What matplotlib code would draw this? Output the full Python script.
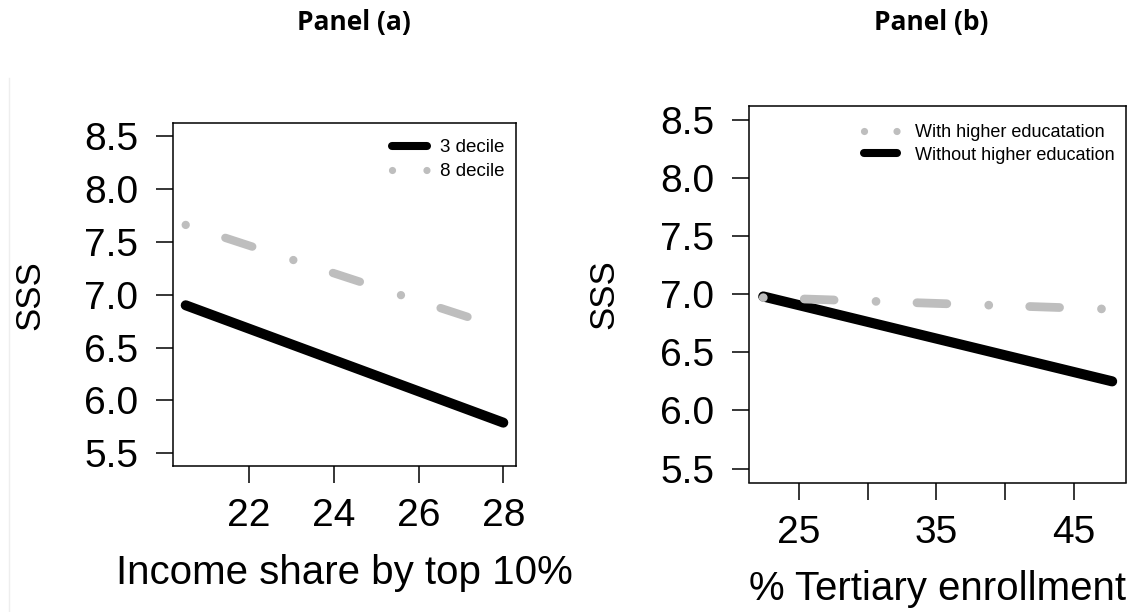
import matplotlib
matplotlib.use("Agg")
import matplotlib.pyplot as plt
from matplotlib.lines import Line2D

plt.rcParams['font.family'] = ['Liberation Sans', 'DejaVu Sans']
plt.rcParams['lines.scale_dashes'] = False

# ---------------- data ----------------
income_share = [20.5, 28.0]
sss_3_decile = [6.90, 5.79]
sss_8_decile = [7.66, 6.68]

tertiary_enroll = [22.4, 47.8]
sss_with_he = [6.97, 6.87]
sss_without_he = [6.98, 6.25]

yticks = [5.5, 6.0, 6.5, 7.0, 7.5, 8.0, 8.5]
ytick_labels = ['5.5', '6.0', '6.5', '7.0', '7.5', '8.0', '8.5']
xticks_a = [22, 24, 26, 28]
xticks_b = [25, 30, 35, 40, 45]
xtick_labels_b = ['25', '', '35', '', '45']

GRAY = '#bebebe'
BLACK = '#000000'

W, H = 1141, 612
fig = plt.figure(figsize=(W / 100, H / 100), dpi=100)


def px_axes(left, top, right, bottom):
    return fig.add_axes([left / W, 1 - bottom / H, (right - left) / W, (bottom - top) / H])


def style_axes(ax, xpad, ypad):
    for s in ax.spines.values():
        s.set_linewidth(1.1)
    ax.tick_params(axis='both', direction='out', length=12, width=1.1,
                   labelsize=28, colors='black')
    ax.tick_params(axis='x', pad=xpad)
    ax.tick_params(axis='y', pad=ypad)
    ax.set_ylim(5.38, 8.62)
    ax.set_yticks(yticks)
    ax.set_yticklabels(ytick_labels)


# ---------------- panel (a) ----------------
ax1 = px_axes(173, 123.4, 516, 466)
ax1.plot(income_share, sss_3_decile, color=BLACK, lw=7.2, solid_capstyle='round')
ax1.plot(income_share, sss_8_decile, color=GRAY, lw=6.0, dashes=(0.01, 30, 20.4, 31.1),
         dash_capstyle='round')
ax1.set_xlim(20.2, 28.3)
ax1.set_xticks(xticks_a)
ax1.set_xticklabels([str(v) for v in xticks_a])
style_axes(ax1, 11, 13)
ax1.set_xlabel('Income share by top 10%', fontsize=29)
ax1.xaxis.set_label_coords(0.5, (466 - 583.5) / (466 - 123.4))
ax1.xaxis.label.set_va('baseline')
ax1.set_ylabel('SSS', fontsize=25)
ax1.yaxis.set_label_coords((29.5 - 173) / (516 - 173), 0.5)
ax1.yaxis.label.set_va('center')

h_a = [Line2D([], [], color=BLACK, lw=5.8, solid_capstyle='round'),
       Line2D([], [], color=GRAY, lw=5.2, dashes=(0.01, 24.8), dash_capstyle='round')]
ax1.legend(h_a, ['3 decile', '8 decile'], loc='upper left',
           bbox_to_anchor=((392 - 173) / 343, 0.954), frameon=False, fontsize=13.5,
           handlelength=35 / 18.75, handletextpad=0.68, labelspacing=0.36,
           borderpad=0, borderaxespad=0)

# ---------------- panel (b) ----------------
ax2 = px_axes(749, 105.8, 1125.6, 482.5)
ax2.plot(tertiary_enroll, sss_without_he, color=BLACK, lw=7.3, solid_capstyle='round')
ax2.plot(tertiary_enroll, sss_with_he, color=GRAY, lw=6.3, dashes=(0.01, 29.5, 21.5, 30.2),
         dash_capstyle='round')
ax2.set_xlim(21.36, 48.78)
ax2.set_xticks(xticks_b)
ax2.set_xticklabels(xtick_labels_b)
style_axes(ax2, 11.5, 13)
ax2.set_xlabel('% Tertiary enrollment', fontsize=29)
ax2.xaxis.set_label_coords(0.5, (482.5 - 599.5) / (482.5 - 105.8))
ax2.xaxis.label.set_va('baseline')
ax2.set_ylabel('SSS', fontsize=25)
ax2.yaxis.set_label_coords((604 - 749) / (1125.6 - 749), 0.5)
ax2.yaxis.label.set_va('center')

h_b = [Line2D([], [], color=GRAY, lw=5.2, dashes=(0.01, 23.4), dash_capstyle='round'),
       Line2D([], [], color=BLACK, lw=5.8, solid_capstyle='round')]
ax2.legend(h_b, ['With higher educatation', 'Without higher education'], loc='upper left',
           bbox_to_anchor=((864 - 749) / 376.6, 0.952), frameon=False, fontsize=13,
           handlelength=33 / 18.06, handletextpad=1.0, labelspacing=0.32,
           borderpad=0, borderaxespad=0)

# ---------------- titles ----------------
fig.text(353.5 / W, 1 - 30 / H, 'Panel (a)', ha='center', va='baseline',
         fontsize=19, fontweight='bold', family=['Open Sans', 'DejaVu Sans'])
fig.text(931.5 / W, 1 - 30 / H, 'Panel (b)', ha='center', va='baseline',
         fontsize=19, fontweight='bold', family=['Open Sans', 'DejaVu Sans'])

# faint frame edge on the left of panel (a)
fig.add_artist(Line2D([9 / W, 9 / W], [0, 1 - 78 / H], color='#eeeeee', lw=1,
                      transform=fig.transFigure))

fig.savefig('out.png', dpi=100)
